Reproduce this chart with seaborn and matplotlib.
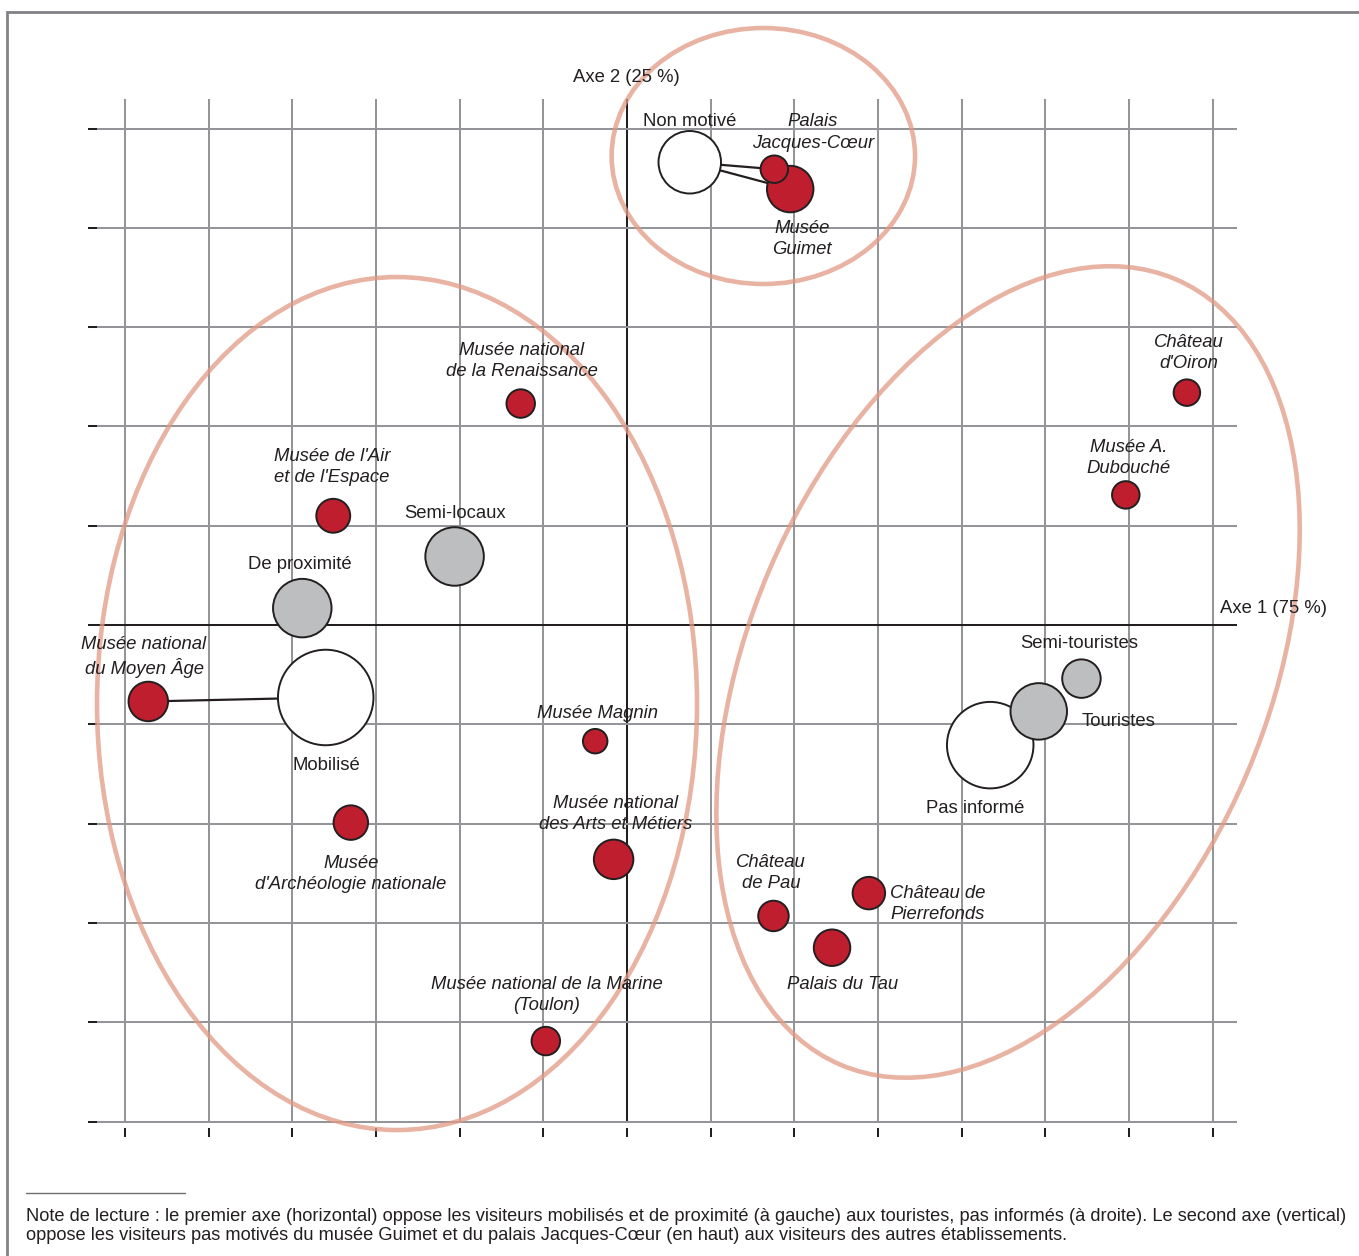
import numpy as np
import pandas as pd
import matplotlib
matplotlib.use("Agg")
import matplotlib.pyplot as plt
from matplotlib.patches import Ellipse, Rectangle
from matplotlib import transforms
import seaborn as sns

# ---------------- data (coordinates on the two factorial axes) ----------------
noms = ["Non motivé", "Musée Guimet", "Palais Jacques-Cœur", "De proximité", "Mobilisé",
        "Musée national du Moyen Âge", "Musée national de la Renaissance",
        "Musée de l'Air et de l'Espace", "Semi-locaux", "Musée Magnin",
        "Musée d'Archéologie nationale", "Musée national des Arts et Métiers",
        "Musée national de la Marine (Toulon)", "Château d'Oiron", "Musée A. Dubouché",
        "Pas informé", "Touristes", "Semi-touristes", "Château de Pau",
        "Château de Pierrefonds", "Palais du Tau"]
axe1 = [0.75, 1.95, 1.76, -3.88, -3.60, -5.72, -1.27, -3.51, -2.06, -0.38, -3.30,
        -0.16, -0.97, 6.69, 5.96, 4.34, 4.92, 5.43, 1.75, 2.89, 2.45]
axe2 = [4.66, 4.39, 4.59, 0.17, -0.73, -0.77, 2.23, 1.10, 0.69, -1.17, -1.99,
        -2.36, -4.19, 2.34, 1.31, -1.21, -0.87, -0.54, -2.93, -2.70, -3.25]
groupes = ["Motivation", "Établissement", "Établissement", "Profil", "Motivation",
           "Établissement", "Établissement", "Établissement", "Profil", "Établissement",
           "Établissement", "Établissement", "Établissement", "Établissement",
           "Établissement", "Motivation", "Profil", "Profil", "Établissement",
           "Établissement", "Établissement"]
poids = [2025, 1121, 392, 1774, 4728, 809, 421, 596, 1774, 311, 617, 809, 421, 364,
         392, 3879, 1655, 768, 482, 548, 691]

liens = [("Non motivé", "Palais Jacques-Cœur"), ("Non motivé", "Musée Guimet"),
         ("Mobilisé", "Musée national du Moyen Âge")]

etiquettes = ["Axe 2 (25 %)", "Axe 1 (75 %)", "Non motivé", "Palais\nJacques-Cœur",
              "Musée\nGuimet", "Musée national\nde la Renaissance",
              "Musée de l'Air\net de l'Espace", "Semi-locaux", "De proximité",
              "Musée national\ndu Moyen Âge", "Mobilisé", "Musée Magnin",
              "Musée national\ndes Arts et Métiers", "Musée\nd'Archéologie nationale",
              "Musée national de la Marine\n(Toulon)", "Château\nd'Oiron",
              "Musée A.\nDubouché", "Semi-touristes", "Touristes", "Pas informé",
              "Château\nde Pau", "Château de\nPierrefonds", "Palais du Tau"]
etiq_x = [-0.006, 7.086, 0.747, 2.222, 2.091, -1.255, -3.525, -2.055, -3.907, -5.771,
          -3.597, -0.347, -0.131, -3.298, -0.956, 6.715, 5.998, 5.401, 5.437, 4.158,
          1.721, 3.143, 2.581]
etiq_y = [5.51, 0.17, 5.07, 4.96, 3.89, 2.66, 1.59, 1.12, 0.61, -0.32, -1.41, -0.89,
          -1.90, -2.51, -3.73, 2.74, 1.68, -0.19, -0.97, -1.85, -2.50, -2.81, -3.62]
etiq_italique = [False, False, False, True, True, True, True, False, False, True, False,
                 True, True, True, True, True, True, False, False, False, True, True, True]
etiq_ha = ["center", "left", "center", "center", "center", "center", "center", "center",
           "center", "center", "center", "center", "center", "center", "center",
           "center", "center", "center", "left", "center", "center", "left", "center"]

# clusters drawn as ellipses (centre in axis units, semi-axes in pixels, angle)
ell_cx = [1.629, -2.748, 4.553]
ell_cy = [4.723, -0.791, -0.473]
ell_a = [151.7, 300.0, 427.0]
ell_b = [128.0, 426.5, 259.6]
ell_angle = [0.0, 0.0, 66.9]

graduations_x = np.arange(-6, 8)
graduations_y = np.arange(-5, 6)

note = ("Note de lecture : le premier axe (horizontal) oppose les visiteurs mobilisés et de "
        "proximité (à gauche) aux touristes, pas informés (à droite). Le second axe (vertical)\n"
        "oppose les visiteurs pas motivés du musée Guimet et du palais Jacques-Cœur (en haut) "
        "aux visiteurs des autres établissements.")

# ---------------- styling ----------------
sns.set_style("white")
plt.rcParams["font.family"] = ["Liberation Sans", "DejaVu Sans"]

ROUGE = "#be1e2d"
GRIS = "#bcbec0"
NOIR = "#231f20"
GRILLE = "#939598"
SAUMON = "#e29a84"

fig = plt.figure(figsize=(13.59, 12.56), dpi=100)
ax = fig.add_axes([0, 0, 1, 1])
ax.set_axis_off()

PX_X = 83.69   # pixels per unit on axis 1
PX_Y = 99.3    # pixels per unit on axis 2
X0, Y0 = 627, 625
xlim = ((0 - X0) / PX_X, (1359 - X0) / PX_X)
ylim = ((Y0 - 1256) / PX_Y, (Y0 - 0) / PX_Y)

# outer frame
fx, fy = (7 - X0) / PX_X, (Y0 - 12) / PX_Y
ax.add_patch(Rectangle((fx, ylim[0] - 2), xlim[1] - fx + 2, fy - ylim[0] + 2,
                       fill=False, edgecolor="#808285", lw=2, zorder=1))

# grid
gx0, gx1 = (97 - X0) / PX_X, (1237 - X0) / PX_X
gy_top = (Y0 - 99) / PX_Y
lw_g = 1.45
ax.vlines(graduations_x, graduations_y[0], gy_top,
          colors=[NOIR if v == 0 else GRILLE for v in graduations_x], lw=lw_g, zorder=2)
ax.hlines(graduations_y, gx0, gx1,
          colors=[NOIR if v == 0 else GRILLE for v in graduations_y], lw=lw_g, zorder=2)
# tick marks
ax.hlines(graduations_y, (88 - X0) / PX_X, gx0, colors=NOIR, lw=lw_g, zorder=2)
ax.vlines(graduations_x, (Y0 - 1137) / PX_Y, (Y0 - 1128) / PX_Y, colors=NOIR, lw=lw_g, zorder=2)

# cluster ellipses
for cx, cy, a, b, ang in zip(ell_cx, ell_cy, ell_a, ell_b, ell_angle):
    tr = fig.dpi_scale_trans + transforms.ScaledTranslation(cx, cy, ax.transData)
    ax.add_patch(Ellipse((0, 0), 2 * a / 100, 2 * b / 100, angle=ang, transform=tr,
                         fill=False, edgecolor=SAUMON, lw=3.3, alpha=0.75, zorder=3))

df = pd.DataFrame({"nom": noms, "axe1": axe1, "axe2": axe2,
                   "groupe": groupes, "poids": poids})

# links
pos = df.set_index("nom")
for a_, b_ in liens:
    ax.plot([pos.loc[a_, "axe1"], pos.loc[b_, "axe1"]],
            [pos.loc[a_, "axe2"], pos.loc[b_, "axe2"]], color=NOIR, lw=1.6, zorder=4)

sns.scatterplot(data=df, x="axe1", y="axe2", hue="groupe", size="poids",
                sizes=(min(poids), max(poids)),
                palette={"Établissement": ROUGE, "Profil": GRIS, "Motivation": "white"},
                edgecolor=NOIR, linewidth=1.4, legend=False, ax=ax, zorder=5)

for t, x, y, it, ha in zip(etiquettes, etiq_x, etiq_y, etiq_italique, etiq_ha):
    ax.text(x, y, t, ha=ha, va="center", fontsize=13.3, color=NOIR,
            style="italic" if it else "normal", linespacing=1.32, zorder=6)

# footnote
nx0, nx1 = (26 - X0) / PX_X, (185 - X0) / PX_X
ny = (Y0 - 1193) / PX_Y
ax.plot([nx0, nx1], [ny, ny], color="#6d6e71", lw=1, zorder=2)
ax.text(nx0, (Y0 - 1226) / PX_Y, note, ha="left", va="center", fontsize=13.18,
        color=NOIR, linespacing=1.22, zorder=6)

ax.set_xlim(*xlim)
ax.set_ylim(*ylim)

fig.savefig("out.png", dpi=100)
